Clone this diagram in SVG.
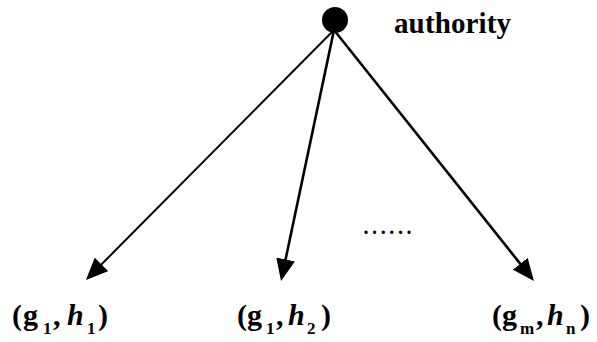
<svg xmlns="http://www.w3.org/2000/svg" width="597" height="342" viewBox="0 0 597 342">
  <style>
    text { font-family: "Times New Roman", "Liberation Serif", serif; font-weight: bold; fill: #000; }
    .lbl { font-size: 30px; }
    .sub { font-size: 17px; }
    .it { font-style: italic; }
    .edge { stroke: #000; fill: none; }
  </style>
  <defs>
    <marker id="arrow" viewBox="0 0 22 19" refX="11" refY="9.5" markerWidth="22" markerHeight="19" markerUnits="userSpaceOnUse" orient="auto">
      <path d="M0,0 L22,9.5 L0,19 z" fill="#000"/>
    </marker>
  </defs>
  <rect width="597" height="342" fill="#fff"/>

  <g id="connectors">
    <line class="edge" x1="334" y1="30" x2="93.7" y2="272.2" stroke-width="2" marker-end="url(#arrow)"/>
    <line class="edge" x1="334" y1="30" x2="283.3" y2="270.2" stroke-width="2.6" marker-end="url(#arrow)"/>
    <line class="edge" x1="334" y1="30" x2="527.1" y2="272.4" stroke-width="2.6" marker-end="url(#arrow)"/>
  </g>

  <g id="authority">
    <circle cx="335" cy="20" r="13" fill="#000"/>
    <text x="394" y="33" font-size="29" textLength="117">authority</text>
  </g>

  <g id="leaf1">
    <text class="lbl" y="325">
      <tspan x="12">(</tspan><tspan x="23">g</tspan><tspan class="sub" x="43" y="334">1</tspan><tspan x="53" y="325">,</tspan><tspan class="it" x="67">h</tspan><tspan class="sub" x="87" y="334">1</tspan><tspan x="98" y="325">)</tspan>
    </text>
  </g>

  <g id="leaf2">
    <text class="lbl" y="325">
      <tspan x="237">(</tspan><tspan x="247">g</tspan><tspan class="sub" x="266" y="334">1</tspan><tspan x="276" y="325">,</tspan><tspan class="it" x="288">h</tspan><tspan class="sub" x="307" y="334">2</tspan><tspan x="321" y="325">)</tspan>
    </text>
  </g>

  <g id="leaf3">
    <text class="lbl" y="325">
      <tspan x="492">(</tspan><tspan x="502">g</tspan><tspan class="sub" x="520" y="334">m</tspan><tspan x="536" y="325">,</tspan><tspan class="it" x="547">h</tspan><tspan class="sub" x="566" y="334">n</tspan><tspan x="580" y="325">)</tspan>
    </text>
  </g>

  <g id="ellipsis">
    <text x="363.5" y="234" font-size="20" letter-spacing="3.6">......</text>
  </g>
</svg>
